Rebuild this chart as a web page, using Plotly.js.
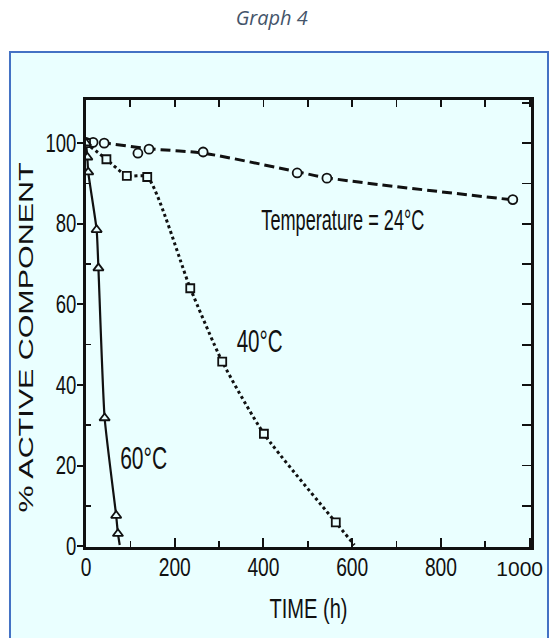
<!DOCTYPE html>
<html>
<head>
<meta charset="utf-8">
<script src="https://cdn.plot.ly/plotly-3.0.1.min.js"></script>
<style>
  html, body { margin: 0; padding: 0; background: #ffffff; }
  #chart { width: 550px; height: 638px; }
</style>
</head>
<body>
<div id="chart"></div>
<script>
// ---- Data ----
// 24 °C: measured points (circles) and the drawn fitted curve (dashed)
const t24X = [0, 16, 41, 117, 142, 264, 476, 543, 962];
const t24Y = [100.2, 100.2, 100, 97.5, 98.5, 97.8, 92.6, 91.3, 86];
const t24CurveX = [0, 41, 142, 264, 476, 543, 972];
const t24CurveY = [100.2, 100, 98.6, 97.5, 92.9, 91.4, 85.8];

// 40 °C: measured points (squares) and the drawn curve (dotted)
const t40X = [0, 46, 92, 138, 235, 307, 401, 563];
const t40Y = [100, 96, 91.9, 91.6, 64, 45.8, 27.9, 5.9];
const t40CurveX = [0, 46, 92, 138, 235, 307, 401, 563, 605];
const t40CurveY = [100, 96, 91.9, 91.6, 64, 45.8, 27.9, 5.9, 0.3];

// 60 °C: measured points (triangles) and the drawn curve (solid)
const t60X = [0, 3, 5, 24, 28, 42, 68, 72];
const t60Y = [100, 96.5, 92.8, 78.5, 69, 31.8, 7.6, 3.1];
const t60CurveX = [0, 3, 5, 24, 28, 42, 68, 72, 76];
const t60CurveY = [100, 96.5, 92.8, 78.5, 69, 31.8, 7.6, 3.1, 0.3];

// Axis ticks
const xTickVals = [0, 200, 400, 600, 800, 1000];
const xTickText = ['0', '200', '400', '600', '800', '1000'];
const yTickVals = [0, 20, 40, 60, 80, 100];
const yTickText = ['0', '20', '40', '60', '80', '100'];

// Labels
const chartTitle = 'Graph 4';
const xTitle = 'TIME (h)';
const yTitle = '% ACTIVE COMPONENT';
const labels = [
  { text: 'Temperature = 24°C', x: 579, y: 81 },
  { text: '40°C', x: 392, y: 50.8 },
  { text: '60°C', x: 129, y: 21.8 }
];

// ---- Styling ----
const BG = '#eaffff';
const INK = '#111111';
const SANS = '"Liberation Sans", Arial, sans-serif';
const X_RANGE = [0, 1003];
const Y_RANGE = [-0.2, 110.7];

const markerBase = (symbol, size) => ({
  symbol: symbol, size: size, color: BG,
  line: { color: INK, width: 1.8 }
});

const traces = [
  { x: t24CurveX, y: t24CurveY, mode: 'lines', hoverinfo: 'skip', showlegend: false,
    line: { color: INK, width: 3, dash: '10px,5px', shape: 'spline', smoothing: 0.8 } },
  { x: t40CurveX, y: t40CurveY, mode: 'lines', hoverinfo: 'skip', showlegend: false,
    line: { color: INK, width: 3, dash: 'dot', shape: 'spline', smoothing: 0.6 } },
  { x: t60CurveX, y: t60CurveY, mode: 'lines', hoverinfo: 'skip', showlegend: false,
    line: { color: INK, width: 2.2, shape: 'spline', smoothing: 0.5 } },
  { x: t24X, y: t24Y, mode: 'markers', name: '24°C', showlegend: false,
    marker: markerBase('circle', 9) },
  { x: t40X, y: t40Y, mode: 'markers', name: '40°C', showlegend: false,
    marker: markerBase('square', 8) },
  { x: t60X, y: t60Y, mode: 'markers', name: '60°C', showlegend: false,
    marker: markerBase('triangle-up', 9) },
  // empty traces so the top / right frame axes exist
  { x: [], y: [], xaxis: 'x2', yaxis: 'y', showlegend: false, hoverinfo: 'skip' },
  { x: [], y: [], xaxis: 'x', yaxis: 'y2', showlegend: false, hoverinfo: 'skip' }
];

const layout = {
  width: 550, height: 638,
  margin: { l: 86, r: 19, t: 100, b: 91 },
  paper_bgcolor: '#ffffff',
  plot_bgcolor: BG,
  showlegend: false,
  title: {
    text: chartTitle, x: 0.494, xref: 'container', y: 1 - 18 / 638, yref: 'container',
    xanchor: 'center', yanchor: 'middle',
    font: { family: '"Open Sans", sans-serif', size: 20, color: '#44546a', style: 'italic' }
  },
  xaxis: {
    range: X_RANGE, showgrid: false, zeroline: false,
    showline: true, linecolor: INK, linewidth: 2.6,
    tickmode: 'array', tickvals: xTickVals, ticktext: xTickText,
    ticks: 'inside', ticklen: 9, tickwidth: 2, tickcolor: INK,
    minor: { tickmode: 'array', tickvals: [100, 300, 500, 700, 900], ticks: 'inside', ticklen: 6, tickwidth: 1.6, tickcolor: INK },
    ticklabelstandoff: -5, ticklabeloverflow: 'allow',
    tickfont: { family: SANS, size: 26, color: INK },
    title: { text: xTitle, standoff: 18, font: { family: SANS, size: 28, color: INK } }
  },
  yaxis: {
    range: Y_RANGE, showgrid: false, zeroline: false,
    showline: true, linecolor: INK, linewidth: 2.6,
    tickmode: 'array', tickvals: yTickVals, ticktext: yTickText,
    ticks: 'outside', ticklen: 6, tickwidth: 2, tickcolor: INK,
    minor: { tickmode: 'array', tickvals: [10, 30, 50, 70, 90], ticks: 'inside', ticklen: 5, tickwidth: 1.6, tickcolor: INK },
    ticklabelstandoff: -4, ticklabeloverflow: 'allow',
    tickfont: { family: SANS, size: 25, color: INK },
    title: { text: yTitle, standoff: 2, font: { family: SANS, size: 20, color: INK } }
  },
  xaxis2: {
    overlaying: 'x', anchor: 'y', side: 'top', range: X_RANGE,
    showgrid: false, zeroline: false, showline: true, linecolor: INK, linewidth: 2.6,
    tickmode: 'linear', tick0: 0, dtick: 100, ticks: 'inside', ticklen: 7, tickwidth: 1.8, tickcolor: INK,
    showticklabels: false
  },
  yaxis2: {
    overlaying: 'y', anchor: 'x', side: 'right', range: Y_RANGE,
    showgrid: false, zeroline: false, showline: true, linecolor: INK, linewidth: 2.6,
    tickmode: 'linear', tick0: 0, dtick: 10, ticks: 'inside', ticklen: 9, tickwidth: 1.8, tickcolor: INK,
    showticklabels: false
  },
  shapes: [
    { type: 'rect', xref: 'paper', yref: 'paper', layer: 'below',
      x0: -0.1708, x1: 1.0382, y0: -0.23, y1: 1.1074,
      fillcolor: BG, line: { color: '#4472c4', width: 2 } }
  ],
  annotations: labels.map((d, i) => ({
    text: d.text, x: d.x, y: d.y, xref: 'x', yref: 'y', showarrow: false,
    xanchor: 'center', yanchor: 'middle',
    font: { family: SANS, size: i === 0 ? 30 : 31, color: INK }
  }))
};

// The scanned original uses a condensed typeface: squeeze text horizontally
// (still real SVG text) with textLength.
function setLength(el, px) {
  if (!el) return;
  el.setAttribute('textLength', px);
  el.setAttribute('lengthAdjust', 'spacingAndGlyphs');
}
function squeeze(el, factor) {
  const L = el.getComputedTextLength();
  if (L > 0) setLength(el, (L * factor).toFixed(1));
}

Plotly.newPlot('chart', traces, layout, { displayModeBar: false, staticPlot: true }).then(gd => {
  document.querySelectorAll('.xtick text').forEach(t => {
    if (t.textContent === '1000') {
      // last label sits a little left of its tick in the scan; keep it inside the page
      t.style.fontSize = '21px';
      t.setAttribute('dx', -10);
    } else {
      squeeze(t, 0.74);
    }
  });
  document.querySelectorAll('.ytick text').forEach(t => squeeze(t, 0.74));
  setLength(document.querySelector('.g-xtitle text'), 78);
  const yt = document.querySelector('.g-ytitle text');
  if (yt) {
    setLength(yt, 350);
    document.querySelector('.g-ytitle').setAttribute('transform', 'translate(6,14)');
  }
  const targets = [163, 46, 47];
  document.querySelectorAll('.annotation-text').forEach((t, i) => {
    if (targets[i]) setLength(t, targets[i]);
  });
});
</script>
</body>
</html>
